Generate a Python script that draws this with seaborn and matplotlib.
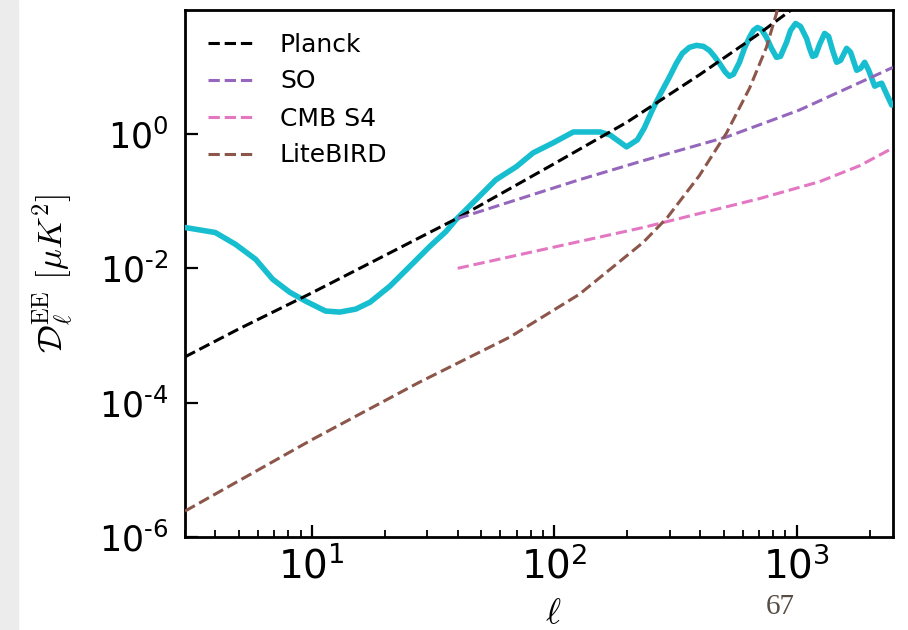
import numpy as np
import matplotlib
matplotlib.use("Agg")
import matplotlib.pyplot as plt
from matplotlib.ticker import LogLocator, NullLocator, FuncFormatter
from matplotlib.patches import Rectangle
import seaborn as sns

# Theory EE power spectrum (multipole, D_ell in muK^2)
ell_ee = [3, 4, 4.85, 5.87, 6.9, 8.11, 9.44, 11.4, 13.06, 15.2, 17.4, 21.0,
          25.4, 30.7, 35.8, 39.4, 46.3, 57.5, 69.7, 81.9, 99, 120, 155, 170,
          199, 220.3, 235.5, 254.1, 276.8, 298.7, 319.3, 338.0, 361.4, 386.2,
          412.8, 437.0, 458.4, 480.7, 508.9, 528.6, 549.1, 581.4, 609.6,
          639.3, 664.1, 690.0, 716.8, 751.6, 788.3, 826.6, 858.7, 909.3,
          944.5, 990.6, 1038.8, 1099.8, 1131.6, 1164.4, 1198.2, 1244.6,
          1305.3, 1356.0, 1408.7, 1463.3, 1520.0, 1609.3, 1671.7, 1769.9,
          1838.6, 1909.9, 1983.9, 2100.6, 2182.0, 2245.3, 2332.6, 2469.8]
dl_ee = [0.0405, 0.0341, 0.0227, 0.0136, 0.00687, 0.00441, 0.00324, 0.00231,
         0.00223, 0.00247, 0.00313, 0.00541, 0.0107, 0.0212, 0.0353, 0.0532,
         0.095, 0.208, 0.324, 0.523, 0.736, 1.07, 1.07, 0.966, 0.642,
         0.815, 1.227, 2.268, 4.19, 6.99, 11.27, 15.85, 19.45, 20.82,
         20.13, 17.55, 14.30, 11.27, 8.29, 7.23, 7.74, 11.66, 18.79,
         27.35, 34.73, 38.48, 35.94, 27.35, 18.79, 13.82, 14.30, 23.07,
         34.73, 44.10, 39.81, 26.44, 18.79, 14.30, 14.80, 21.54,
         31.36, 28.31, 17.55, 11.66, 12.49, 18.79, 16.40, 8.87,
         9.50, 11.66, 8.87, 5.14, 5.50, 5.69, 4.19, 2.69]

# Experiment noise curves
ell_planck = [3, 5, 10, 20, 40, 100, 200, 400, 700, 950]
dl_planck = [4.8e-4, 1.25e-3, 4.3e-3, 1.55e-2, 5.6e-2, 0.36, 1.5, 7.7, 31, 70]

ell_so = [40, 127, 233, 514, 1028, 1656, 2500]
dl_so = [0.055, 0.208, 0.40, 0.90, 2.27, 4.97, 9.8]

ell_s4 = [40, 233, 397, 703, 1245, 1820, 2500]
dl_s4 = [0.010, 0.0405, 0.0653, 0.109, 0.195, 0.336, 0.62]

ell_lb = [3, 10, 27.7, 65.8, 127, 233, 293, 397, 514, 640, 751, 826, 845]
dl_lb = [2.43e-6, 2.8e-5, 2.0e-4, 9.5e-4, 4.1e-3, 0.0243, 0.057, 0.239,
         1.03, 4.8, 19.4, 62, 90]

series_names = ["Planck", "SO", "CMB S4", "LiteBIRD"]
series_colors = ["black", "#9467bd", "#e377c2", "#8c564b"]
series_ell = [ell_planck, ell_so, ell_s4, ell_lb]
series_dl = [dl_planck, dl_so, dl_s4, dl_lb]

y_ticks = [1e-6, 1e-4, 1e-2, 1e0]

sns.set_style("ticks")
plt.rcParams.update({
    "font.family": ["DejaVu Sans"],
    "mathtext.fontset": "dejavusans",
    "text.color": "black",
    "axes.labelcolor": "black",
    "axes.edgecolor": "black",
    "axes.linewidth": 2.0,
    "axes.axisbelow": False,
    "xtick.color": "black",
    "ytick.color": "black",
    "xtick.direction": "in",
    "ytick.direction": "in",
    "xtick.major.size": 9,
    "ytick.major.size": 9,
    "xtick.minor.size": 5,
    "ytick.minor.size": 5,
    "xtick.major.width": 1.6,
    "ytick.major.width": 1.6,
    "xtick.minor.width": 1.3,
    "ytick.minor.width": 1.3,
    "xtick.bottom": True,
    "ytick.left": True,
    "xtick.top": False,
    "ytick.right": False,
})


def power_label(v, pos):
    # decade label with a short hyphen in the exponent
    e = int(round(np.log10(v)))
    s = str(e).replace("-", "\u2010")
    return r"$\mathdefault{10^{%s}}$" % s


W, H = 908, 630
fig = plt.figure(figsize=(W / 100, H / 100), dpi=100)
fig.patch.set_facecolor("white")
# light grey margin strip at the left edge of the page
fig.patches.append(Rectangle((0, 0), 18 / W, 1, transform=fig.transFigure,
                             color="#ececec", zorder=0))

ax = fig.add_axes([185 / W, 1 - 537 / H, (893 - 185) / W, (537 - 10) / H])
ax.set_xscale("log")
ax.set_yscale("log")

sns.lineplot(x=ell_ee, y=dl_ee, ax=ax, color="#17becf", lw=4.0,
             estimator=None, sort=False, legend=False, zorder=3)
for name, col, xs, ys in zip(series_names, series_colors, series_ell, series_dl):
    sns.lineplot(x=xs, y=ys, ax=ax, color=col, lw=2.2, linestyle="--",
                 estimator=None, sort=False, label=name, zorder=4)

ax.set_xlim(3, 2500)
ax.set_ylim(1e-6, 70)
ax.set_yticks(y_ticks)
ax.yaxis.set_minor_locator(NullLocator())
ax.yaxis.set_major_formatter(FuncFormatter(power_label))
ax.xaxis.set_major_locator(LogLocator(base=10))
ax.xaxis.set_minor_locator(LogLocator(base=10, subs=np.arange(2, 10)))
ax.xaxis.set_major_formatter(FuncFormatter(power_label))

for s in ax.spines.values():
    s.set_visible(True)
    s.set_linewidth(2.0)
    s.set_color("black")
ax.tick_params(which="both", direction="in", colors="black",
               left=True, bottom=True, top=False, right=False)
ax.tick_params(which="major", length=9, width=1.6)
ax.tick_params(which="minor", length=5, width=1.3)
ax.tick_params(axis="y", which="major", labelsize=25, pad=12)
ax.tick_params(axis="x", which="major", labelsize=28, pad=7)

ax.set_ylabel(r"$\mathcal{D}_\ell^{\rm EE}\ [\mu K^2]$", fontsize=25,
              math_fontfamily="cm", color="black")
ax.yaxis.set_label_coords(-0.155, 0.5)
ax.set_xlabel(r"$\ell$", fontsize=26, math_fontfamily="cm", color="black")
ax.xaxis.set_label_coords(0.52, -0.112)

leg = ax.legend(loc="upper left", bbox_to_anchor=(0.0, 1.0), frameon=False,
                fontsize=18, handlelength=1.9, handletextpad=1.0,
                labelspacing=0.52)
for t in leg.get_texts():
    t.set_color("black")

fig.text(780 / W, 1 - 607 / H, "67", family="Liberation Serif", fontsize=21,
         color="#574d44", ha="center", va="center")

fig.savefig("out.png", dpi=100)
